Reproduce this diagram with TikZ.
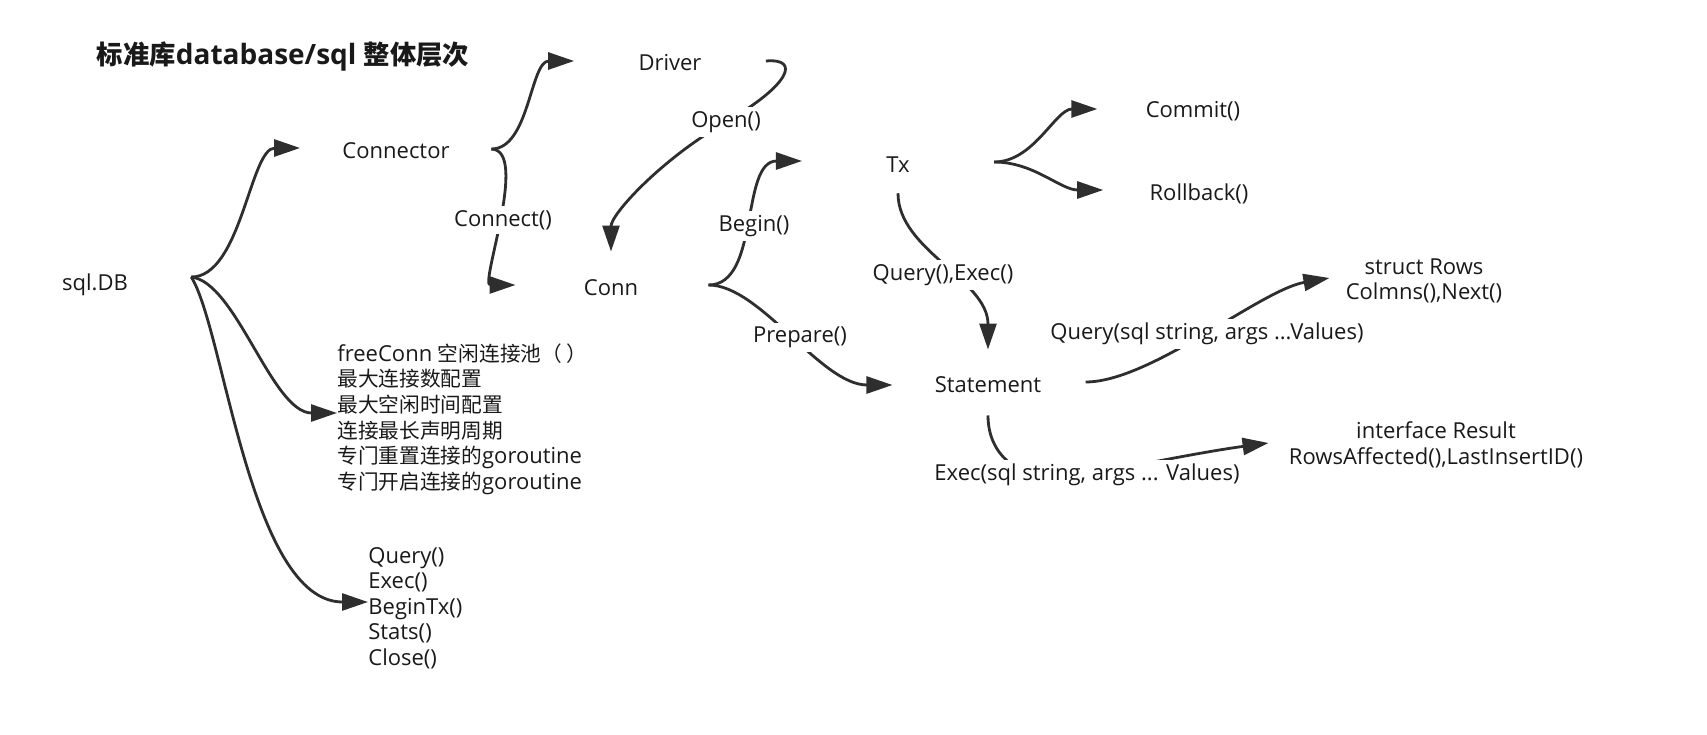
\documentclass[tikz,border=0pt]{standalone}
\usepackage{fontspec}
\setmainfont{Open Sans}
\newfontfamily\cjk{Noto Sans CJK SC}[Scale=0.94]
\usetikzlibrary{arrows.meta,positioning,backgrounds}
\definecolor{ink}{HTML}{2E2E2E}
\newcommand{\zh}[1]{{\cjk #1}}

\begin{document}
\begin{tikzpicture}[
        x=0.5pt, y=-0.5pt,
        every node/.style={text=black!90, inner sep=0pt},
        item/.style={font=\fontsize{11}{12.8}\selectfont},
        call/.style={item, fill=white, inner xsep=1pt, inner ysep=2pt},
        block/.style={item, align=left, anchor=west},
        head/.style={font=\fontsize{14}{16}\selectfont\bfseries},
        link/.style={draw=ink, line width=1.4pt},
        flow/.style={link, -{Triangle[length=13pt, width=8.5pt]}},
    ]
    \useasboundingbox (0,0) rectangle (1707,734);

    % Title
    \node[head] (title) at (283,57) {\zh{标准库}database/sql \zh{整体层次}};

    % Types
    \node[item] (db) at (95,285) {sql.DB};
    \node[item] (cntr) at (396,151) {Connector};
    \node[item] (drv) at (670,63) {Driver};
    \node[item] (conn) at (611,288) {Conn};
    \node[item] (tx) at (898,165) {Tx};
    \node[item] (commit) at (1193,111) {Commit()};
    \node[item] (rollback) at (1199,194) {Rollback()};
    \node[item] (stmt) at (988,385) {Statement};
    \node[item, align=center] (rows) at (1424,281) {struct Rows\\Colmns(),Next()};
    \node[item, align=center] (result) at (1436,445) {interface Result\\RowsAffected(),LastInsertID()};
    \node[block] (pool) at (337,419) {freeConn \zh{空闲连接池（ ）}\\\zh{最大连接数配置}\\\zh{最大空闲时间配置}\\\zh{连接最长声明周期}\\\zh{专门重置连接的}goroutine\\\zh{专门开启连接的}goroutine};
    \node[block] (api) at (368,608) {Query()\\Exec()\\BeginTx()\\Stats()\\Close()};

    % Method labels
    \node[call] (lconnect) at (503,220) {Connect()};
    \node[call] (lopen) at (726,122) {Open()};
    \node[call] (lbegin) at (754,226) {Begin()};
    \node[call] (lprepare) at (800,337) {Prepare()};
    \node[call] (lqe) at (943,275) {Query(),Exec()};
    \node[call] (lquery) at (1207,334) {Query(sql string, args ...Values)};
    \node[call] (lexec) at (1087,475) {Exec(sql string, args ... Values)};

    % Forks
    \coordinate (dbfork) at ([xshift=31.5pt,yshift=4pt]db.east);
    \coordinate (cntrfork) at ([xshift=20.75pt,yshift=1pt]cntr.east);
    \coordinate (connfork) at ([xshift=35pt,yshift=1.5pt]conn.east);
    \coordinate (txfork) at ([xshift=42pt,yshift=1.5pt]tx.east);

    % Connectors
    \begin{scope}[on background layer]
        \draw[flow] (dbfork) .. controls +(50,0) and +(-50,0) .. ([xshift=-21pt,yshift=1.5pt]cntr.west);
        \draw[flow] (dbfork) .. controls +(45,5) and +(-65,0) .. ([yshift=3pt]pool.west);
        \draw[flow] (dbfork) .. controls +(33,52) and +(-118,0) .. ([yshift=3pt]api.west);
        \draw[flow] (cntrfork) .. controls +(38,0) and +(-44,0) .. ([xshift=-32pt,yshift=1pt]drv.west);
        \draw[flow] (cntrfork) .. controls +(38,1) and +(-36,0) .. ([xshift=-34pt,yshift=1.5pt]conn.west);
        \draw[flow] ([xshift=32pt,yshift=1pt]drv.east) .. controls +(35,-3) and +(64,-37) .. (lopen.center)
            .. controls +(-66,38) and +(0,-37) .. ([yshift=14pt]conn.north);
        \draw[flow] (connfork) .. controls +(52,0) and +(-62,0) .. ([xshift=-42pt,yshift=2pt]tx.west);
        \draw[flow] (connfork) .. controls +(52,0) and +(-72,0) .. ([xshift=-21pt]stmt.west);
        \draw[flow] (txfork) .. controls +(40,0) and +(-42,0) .. ([xshift=-24pt,yshift=1pt]commit.west);
        \draw[flow] (txfork) .. controls +(40,0) and +(-43,0) .. ([xshift=-23pt,yshift=2pt]rollback.west);
        \draw[flow] ([yshift=-10pt]tx.south) .. controls +(0,57) and +(0,-70) .. ([yshift=13.5pt]stmt.north);
        \draw[flow] ([xshift=22pt,yshift=1.5pt]stmt.east) .. controls +(65,0) and +(-69,12) .. ([xshift=-8pt,yshift=1.5pt]rows.west);
        \draw[flow] ([yshift=-11pt]stmt.south) .. controls +(0,45) and +(-60,12) .. (lexec.center)
            .. controls +(60,-12) and +(-60,8) .. ([xshift=-10pt,yshift=1pt]result.west);
    \end{scope}
\end{tikzpicture}
\end{document}
